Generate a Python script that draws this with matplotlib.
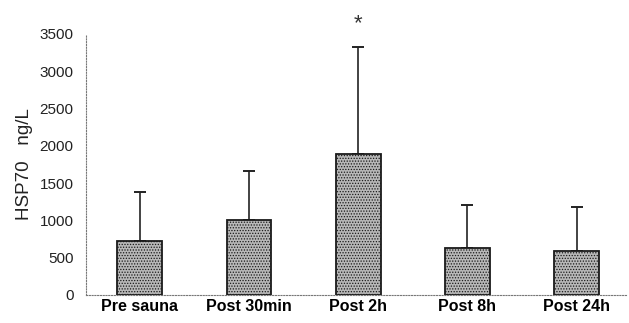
import numpy as np
import matplotlib.pyplot as plt

plt.rcParams['font.family'] = ['Liberation Sans', 'DejaVu Sans']
plt.rcParams['hatch.color'] = "#8c8c8c"
plt.rcParams['hatch.linewidth'] = 0.6

# Data
groups = ["Pre sauna", "Post 30min", "Post 2h", "Post 8h", "Post 24h"]
means = [725, 1005, 1890, 630, 590]
sd_upper = [655, 660, 1435, 575, 590]
significant = [False, False, True, False, False]

fig = plt.figure(figsize=(6.29, 3.23), dpi=100)
ax = fig.add_axes([0.137, 0.087, 0.858, 0.808])

x = np.arange(len(groups))
ax.bar(x, means, width=0.41, color="#b8b8b8", edgecolor="#1a1a1a",
       linewidth=1.3, hatch="......", zorder=2)
ax.errorbar(x, means, yerr=[np.zeros(len(means)), sd_upper], fmt="none",
            ecolor="#222222", elinewidth=1.2, capsize=4, capthick=1.4, zorder=1)

for xi, m, s, sig in zip(x, means, sd_upper, significant):
    if sig:
        ax.text(xi, m + s + 170, "*", ha="center", va="bottom", fontsize=16,
                color="#333333")

ax.set_xlim(-0.49, 4.45)
ax.set_ylim(0, 3500)
ax.set_yticks(np.arange(0, 3501, 500))
ax.set_xticks(x)
ax.set_xticklabels(groups, fontweight="bold", fontsize=11.5)
ax.tick_params(axis="y", labelsize=11, length=0, pad=9, colors="#222222")
ax.tick_params(axis="x", length=0, pad=3)
ax.set_ylabel("HSP70   ng/L", fontsize=13.5, labelpad=5, color="#222222")

for side in ["top", "right"]:
    ax.spines[side].set_visible(False)
for side in ["left", "bottom"]:
    ax.spines[side].set_linestyle((0, (1, 1.5)))
    ax.spines[side].set_linewidth(0.8)
    ax.spines[side].set_color("#777777")

fig.savefig("out.png", dpi=100)
